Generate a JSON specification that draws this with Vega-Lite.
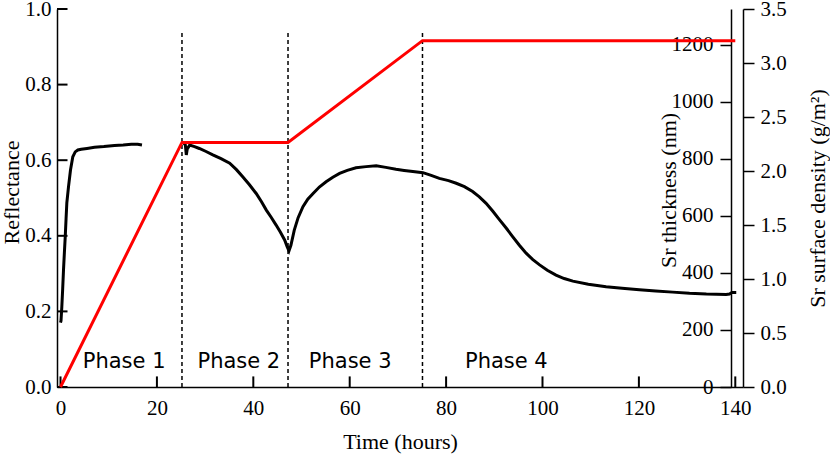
{
  "$schema": "https://vega.github.io/schema/vega-lite/v6.json",
  "width": 686,
  "height": 378,
  "autosize": "none",
  "padding": {"left": 57, "top": 9, "right": 87, "bottom": 72},
  "background": "white",
  "datasets": {
    "refl": [
      {"t": 0.0, "r": 0.17, "seg": "a"}, {"t": 0.1, "r": 0.175, "seg": "a"}, {"t": 0.27, "r": 0.212, "seg": "a"},
      {"t": 0.45, "r": 0.26, "seg": "a"}, {"t": 0.62, "r": 0.31, "seg": "a"}, {"t": 0.8, "r": 0.355, "seg": "a"},
      {"t": 0.98, "r": 0.398, "seg": "a"}, {"t": 1.15, "r": 0.445, "seg": "a"}, {"t": 1.31, "r": 0.487, "seg": "a"},
      {"t": 1.66, "r": 0.53, "seg": "a"}, {"t": 2.07, "r": 0.574, "seg": "a"}, {"t": 2.55, "r": 0.609, "seg": "a"},
      {"t": 3.05, "r": 0.622, "seg": "a"}, {"t": 3.6, "r": 0.627, "seg": "a"}, {"t": 4.3, "r": 0.629, "seg": "a"},
      {"t": 5.5, "r": 0.631, "seg": "a"}, {"t": 7.05, "r": 0.634, "seg": "a"}, {"t": 9.0, "r": 0.636, "seg": "a"},
      {"t": 11.2, "r": 0.639, "seg": "a"}, {"t": 13.0, "r": 0.64, "seg": "a"}, {"t": 14.7, "r": 0.642, "seg": "a"},
      {"t": 16.0, "r": 0.642, "seg": "a"}, {"t": 16.9, "r": 0.64, "seg": "a"},
      {"t": 25.6, "r": 0.645, "seg": "b"}, {"t": 25.9, "r": 0.64, "seg": "b"}, {"t": 26.1, "r": 0.614, "seg": "b"},
      {"t": 26.3, "r": 0.63, "seg": "b"}, {"t": 26.8, "r": 0.64, "seg": "b"}, {"t": 27.8, "r": 0.636, "seg": "b"},
      {"t": 28.8, "r": 0.631, "seg": "b"}, {"t": 30.2, "r": 0.623, "seg": "b"}, {"t": 31.6, "r": 0.614, "seg": "b"},
      {"t": 33.3, "r": 0.604, "seg": "b"}, {"t": 35.1, "r": 0.592, "seg": "b"}, {"t": 36.5, "r": 0.575, "seg": "b"},
      {"t": 37.8, "r": 0.556, "seg": "b"}, {"t": 39.2, "r": 0.535, "seg": "b"}, {"t": 40.6, "r": 0.512, "seg": "b"},
      {"t": 41.7, "r": 0.49, "seg": "b"}, {"t": 42.7, "r": 0.468, "seg": "b"}, {"t": 43.7, "r": 0.449, "seg": "b"},
      {"t": 44.7, "r": 0.429, "seg": "b"}, {"t": 45.6, "r": 0.41, "seg": "b"}, {"t": 46.5, "r": 0.389, "seg": "b"},
      {"t": 47.0, "r": 0.372, "seg": "b"}, {"t": 47.4, "r": 0.36, "seg": "b"}, {"t": 47.8, "r": 0.375, "seg": "b"},
      {"t": 48.5, "r": 0.415, "seg": "b"}, {"t": 49.3, "r": 0.448, "seg": "b"}, {"t": 50.3, "r": 0.477, "seg": "b"},
      {"t": 51.3, "r": 0.497, "seg": "b"}, {"t": 52.4, "r": 0.512, "seg": "b"}, {"t": 53.7, "r": 0.529, "seg": "b"},
      {"t": 55.1, "r": 0.543, "seg": "b"}, {"t": 56.5, "r": 0.555, "seg": "b"}, {"t": 57.9, "r": 0.565, "seg": "b"},
      {"t": 59.5, "r": 0.573, "seg": "b"}, {"t": 61.3, "r": 0.58, "seg": "b"}, {"t": 63.4, "r": 0.583, "seg": "b"},
      {"t": 65.5, "r": 0.585, "seg": "b"}, {"t": 67.5, "r": 0.581, "seg": "b"}, {"t": 69.6, "r": 0.576, "seg": "b"},
      {"t": 71.3, "r": 0.573, "seg": "b"}, {"t": 73.1, "r": 0.57, "seg": "b"}, {"t": 75.2, "r": 0.567, "seg": "b"},
      {"t": 76.9, "r": 0.56, "seg": "b"}, {"t": 78.6, "r": 0.552, "seg": "b"}, {"t": 80.5, "r": 0.546, "seg": "b"},
      {"t": 82.1, "r": 0.539, "seg": "b"}, {"t": 83.8, "r": 0.53, "seg": "b"}, {"t": 85.5, "r": 0.517, "seg": "b"},
      {"t": 86.9, "r": 0.503, "seg": "b"}, {"t": 88.3, "r": 0.486, "seg": "b"}, {"t": 89.7, "r": 0.465, "seg": "b"},
      {"t": 91.1, "r": 0.442, "seg": "b"}, {"t": 92.5, "r": 0.42, "seg": "b"}, {"t": 93.8, "r": 0.398, "seg": "b"},
      {"t": 95.2, "r": 0.375, "seg": "b"}, {"t": 96.6, "r": 0.354, "seg": "b"}, {"t": 98.0, "r": 0.337, "seg": "b"},
      {"t": 99.4, "r": 0.323, "seg": "b"}, {"t": 101.0, "r": 0.309, "seg": "b"}, {"t": 102.8, "r": 0.296, "seg": "b"},
      {"t": 104.5, "r": 0.287, "seg": "b"}, {"t": 106.3, "r": 0.28, "seg": "b"}, {"t": 109.5, "r": 0.272, "seg": "b"},
      {"t": 113.2, "r": 0.265, "seg": "b"}, {"t": 116.5, "r": 0.261, "seg": "b"}, {"t": 120.1, "r": 0.257, "seg": "b"},
      {"t": 123.5, "r": 0.254, "seg": "b"}, {"t": 127.0, "r": 0.251, "seg": "b"}, {"t": 130.5, "r": 0.248, "seg": "b"},
      {"t": 134.0, "r": 0.246, "seg": "b"}, {"t": 138.1, "r": 0.245, "seg": "b"}, {"t": 138.8, "r": 0.246, "seg": "b"},
      {"t": 139.3, "r": 0.25, "seg": "b"}, {"t": 140.2, "r": 0.25, "seg": "b"}
    ],
    "sr": [
      {"t": 0, "nm": 0, "gm2": 0},
      {"t": 25.2, "nm": 858, "gm2": 2.265},
      {"t": 47.2, "nm": 858, "gm2": 2.265},
      {"t": 75.1, "nm": 1215, "gm2": 3.208},
      {"t": 140.0, "nm": 1215, "gm2": 3.208}
    ],
    "phases": [
      {"t": 25.2, "ylo": 0, "yhi": 0.94},
      {"t": 47.2, "ylo": 0, "yhi": 0.94},
      {"t": 75.1, "ylo": 0, "yhi": 0.94}
    ],
    "labels": [
      {"t": 13.2, "r": 0.066, "label": "Phase 1"},
      {"t": 37.0, "r": 0.066, "label": "Phase 2"},
      {"t": 60.1, "r": 0.066, "label": "Phase 3"},
      {"t": 92.5, "r": 0.066, "label": "Phase 4"}
    ],
    "xticks": [{"t": 0}, {"t": 20}, {"t": 40}, {"t": 60}, {"t": 80}, {"t": 100}, {"t": 120}, {"t": 140}],
    "yticks": [{"r": 0}, {"r": 0.2}, {"r": 0.4}, {"r": 0.6}, {"r": 0.8}, {"r": 1.0}]
  },
  "layer": [
    {
      "layer": [
        {
          "data": {"name": "refl"},
          "mark": {"type": "line", "color": "black", "strokeWidth": 3, "interpolate": "linear"},
          "encoding": {
            "x": {
              "field": "t", "type": "quantitative",
              "scale": {"domain": [-0.73, 141.6], "nice": false, "zero": false},
              "axis": {
                "title": "Time (hours)",
                "values": [0, 20, 40, 60, 80, 100, 120, 140],
                "ticks": false,
                "labelPadding": 21,
                "labelBaseline": "middle",
                "labelFlush": false,
                "labelOverlap": false,
                "titleY": 54,
                "titleBaseline": "middle"
              }
            },
            "y": {
              "field": "r", "type": "quantitative",
              "scale": {"domain": [0, 1], "nice": false, "zero": false},
              "axis": {
                "title": "Reflectance",
                "orient": "left",
                "values": [0, 0.2, 0.4, 0.6, 0.8, 1.0],
                "format": ".1f",
                "ticks": false,
                "labelPadding": 6,
                "labelFlush": false,
                "labelOverlap": false,
                "titleX": -46,
                "titleY": 183,
                "titleBaseline": "middle",
                "titleAngle": -90
              }
            },
            "detail": {"field": "seg"}
          }
        },
        {
          "data": {"name": "phases"},
          "mark": {"type": "rule", "color": "black", "strokeWidth": 1.5, "strokeDash": [4, 3]},
          "encoding": {
            "x": {"field": "t", "type": "quantitative"},
            "y": {"field": "ylo", "type": "quantitative"},
            "y2": {"field": "yhi"}
          }
        },
        {
          "data": {"name": "xticks"},
          "mark": {"type": "rule", "color": "black", "strokeWidth": 2},
          "encoding": {
            "x": {"field": "t", "type": "quantitative"},
            "y": {"datum": 0, "type": "quantitative"},
            "y2": {"datum": 0.028}
          }
        },
        {
          "data": {"name": "yticks"},
          "mark": {"type": "rule", "color": "black", "strokeWidth": 2},
          "encoding": {
            "y": {"field": "r", "type": "quantitative"},
            "x": {"datum": -0.73, "type": "quantitative"},
            "x2": {"datum": 1.45}
          }
        },
        {
          "data": {"name": "labels"},
          "mark": {"type": "text", "font": "DejaVu Sans", "fontSize": 21, "color": "black", "align": "center", "baseline": "middle"},
          "encoding": {
            "x": {"field": "t", "type": "quantitative"},
            "y": {"field": "r", "type": "quantitative"},
            "text": {"field": "label"}
          }
        }
      ]
    },
    {
      "data": {"name": "sr"},
      "mark": {"type": "line", "color": "#ff0000", "strokeWidth": 3},
      "encoding": {
        "x": {
          "field": "t", "type": "quantitative",
          "scale": {"domain": [-0.73, 141.6], "nice": false, "zero": false},
          "axis": null
        },
        "y": {
          "field": "nm", "type": "quantitative",
          "scale": {"domain": [0, 1326], "nice": false, "zero": false},
          "axis": {
            "title": "Sr thickness (nm)",
            "orient": "left",
            "offset": -674,
            "values": [0, 200, 400, 600, 800, 1000, 1200],
            "format": "d",
            "tickSize": 11,
            "labelPadding": 7,
            "labelFlush": false,
            "labelOverlap": false,
            "titleX": -63,
            "titleY": 181,
            "titleBaseline": "middle",
            "titleAngle": -90
          }
        }
      }
    },
    {
      "data": {"name": "sr"},
      "mark": {"type": "line", "color": "#ff0000", "strokeWidth": 3, "strokeOpacity": 0},
      "encoding": {
        "x": {
          "field": "t", "type": "quantitative",
          "scale": {"domain": [-0.73, 141.6], "nice": false, "zero": false},
          "axis": null
        },
        "y": {
          "field": "gm2", "type": "quantitative",
          "scale": {"domain": [0, 3.5], "nice": false, "zero": false},
          "axis": {
            "title": "Sr surface density (g/m²)",
            "orient": "right",
            "offset": 0,
            "values": [0, 0.5, 1, 1.5, 2, 2.5, 3, 3.5],
            "format": ".1f",
            "tickSize": 11,
            "labelPadding": 6,
            "labelFlush": false,
            "labelOverlap": false,
            "titleX": 74,
            "titleY": 189,
            "titleBaseline": "middle",
            "titleAngle": -90
          }
        }
      }
    }
  ],
  "resolve": {"scale": {"x": "independent", "y": "independent"}, "axis": {"x": "independent", "y": "independent"}},
  "config": {
    "view": {"stroke": null},
    "axis": {
      "grid": false,
      "domainColor": "black",
      "domainWidth": 1.5,
      "tickColor": "black",
      "tickWidth": 1.5,
      "labelColor": "black",
      "titleColor": "black",
      "labelFont": "Liberation Serif",
      "titleFont": "Liberation Serif",
      "labelFontSize": 21,
      "titleFontSize": 22,
      "titleFontWeight": "normal"
    }
  }
}
